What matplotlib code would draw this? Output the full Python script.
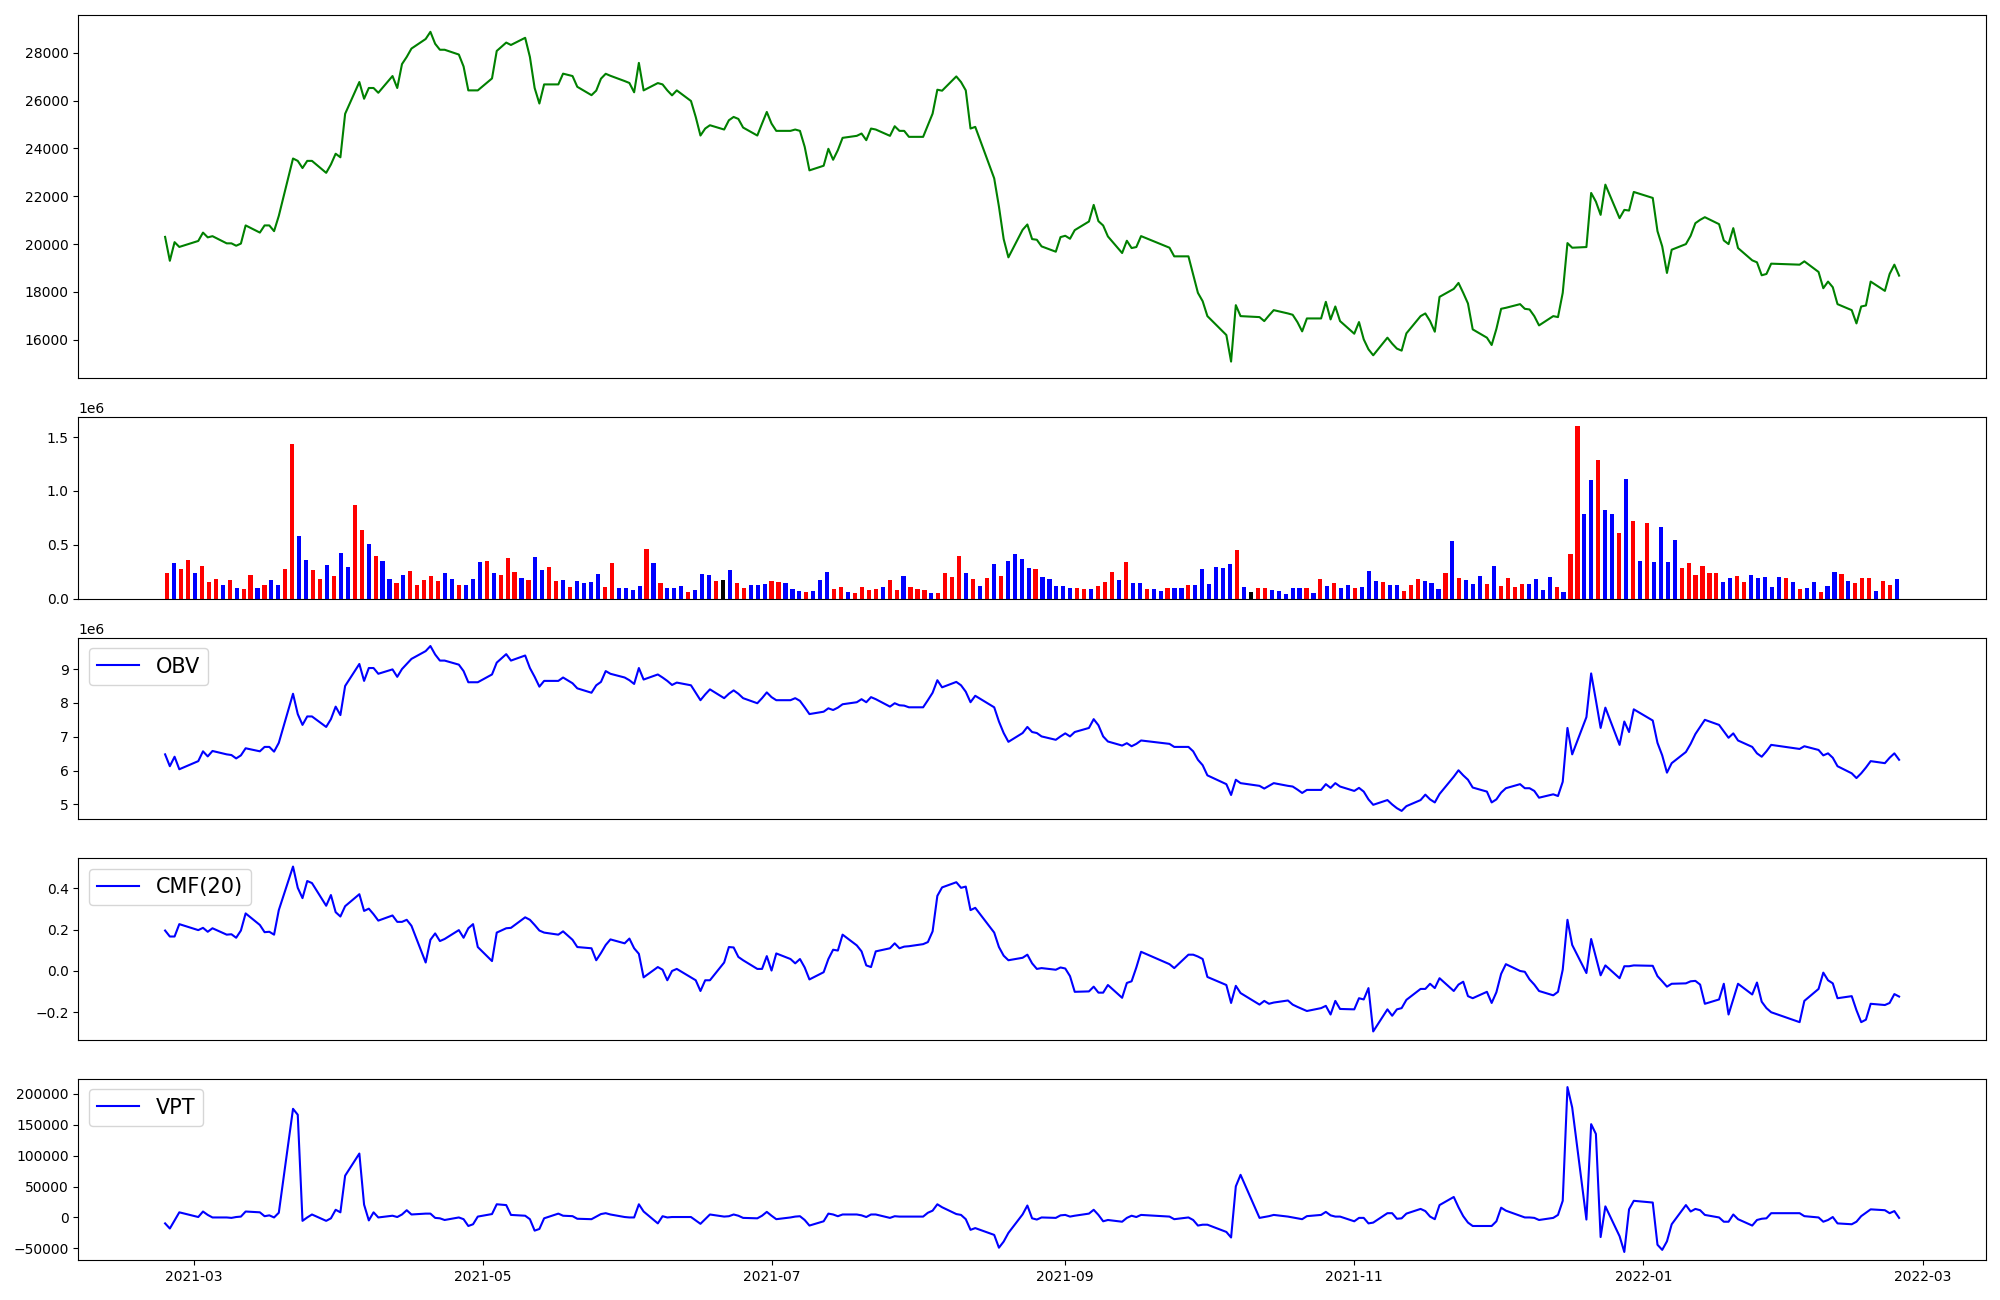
import numpy as np
import pandas as pd
import matplotlib
matplotlib.use("Agg")
import matplotlib.pyplot as plt
import matplotlib.dates as mdates

# ---------------- data ----------------
holidays = ["2021-03-01", "2021-05-05", "2021-05-19", "2021-08-16", "2021-09-20",
            "2021-09-21", "2021-09-22", "2021-10-04", "2021-10-11", "2021-12-31",
            "2022-01-31", "2022-02-01", "2022-02-02"]
dates = pd.bdate_range("2021-02-23", "2022-02-24").difference(pd.to_datetime(holidays))

close = [
    20300, 19300, 20080, 19880,
    20130, 20480, 20280, 20330, 20030, 20030, 19930, 20020, 20780, 20480, 20780,
    20780, 20540, 21180, 23580, 23480, 23180, 23480, 23480, 22980, 23330, 23780,
    23630, 25450, 26780, 26080, 26530, 26530, 26330, 27030, 26530, 27530, 27830,
    28180, 28580, 28880, 28380, 28130, 28130, 27930, 27430, 26430, 26430, 26430,
    26930, 28080, 28430, 28330, 28630, 27830, 26530, 25880, 26680, 26680, 27130,
    27030, 26580, 26230, 26420, 26920, 27125, 27040, 26820,
    26740, 26350, 27580, 26430, 26736, 26680, 26430, 26222, 26430, 25986, 25319,
    24541, 24833, 24972, 24792, 25180, 25319, 25236, 24875, 24541, 25041, 25528,
    25041, 24736, 24736, 24792, 24736, 24069, 23083, 23277, 23986, 23527, 23930,
    24444, 24528, 24625, 24347, 24833, 24792, 24528, 24930, 24736, 24736, 24486,
    24486, 24972, 25458, 26458, 26417, 27014, 26778, 26430, 24833, 24903, 22750,
    21569, 20208, 19444, 20597, 20819, 20208, 20180, 19903, 19680, 20291,
    20347, 20222, 20583, 20944, 21639, 20958, 20777, 20319, 19625, 20139, 19833,
    19875, 20333, 19847, 19486, 19486, 18721, 17958, 17610,
    16985, 16194, 15083, 17444, 16985, 16944, 16777, 17013, 17235, 17097, 17041,
    16736, 16347, 16888, 16888, 17583, 16847, 17388, 16777,
    16249, 16736, 16013, 15597, 15346, 16083, 15833, 15625, 15541, 16263, 16985,
    17097, 16777, 16333, 17791, 18124, 18374, 17958, 17513, 16430, 16083, 15777,
    16450, 17291, 17333, 17486, 17291, 17263, 16985, 16597, 16985, 16944, 17958,
    20041, 19847, 19875, 22138, 21777, 21222, 22486, 21083, 21430, 21402, 22180,
    21930, 20541, 19902, 18791, 19763, 19999, 20347, 20874, 21013, 21124, 20833,
    20152, 19999, 20666, 19833, 19319, 19236, 18694, 18749, 19180,
    19138, 19277, 18833, 18152, 18430, 18194, 17486, 17235, 16680, 17388, 17430,
    18430, 18041, 18749, 19138, 18680,
]

volume_m = [
    .241, .333, .272, .355, .235, .299, .151, .179, .123, .170,
    .102, .086, .216, .096, .123, .170, .123, .272, 1.438, .586,
    .355, .262, .179, .309, .207, .420, .290, .873, .642, .512,
    .392, .346, .179, .142, .219, .253, .123, .170, .207, .160,
    .235, .179, .130, .130, .179, .336, .346, .235, .216, .373,
    .244, .188, .170, .383, .262, .290, .160, .170, .107, .160,
    .142, .151, .225, .105, .327, .096, .096, .077, .114, .457,
    .327, .142, .096, .096, .114, .059, .077, .225, .216, .160,
    .170, .262, .142, .096, .123, .123, .133, .160, .151, .142,
    .086, .068, .059, .068, .170, .244, .086, .105, .059, .049,
    .105, .077, .086, .105, .170, .077, .207, .105, .086, .077,
    .049, .049, .235, .198, .392, .235, .179, .114, .188, .318,
    .207, .346, .410, .364, .281, .278, .198, .179, .114, .114,
    .096, .096, .086, .086, .114, .151, .244, .170, .336, .142,
    .142, .086, .086, .068, .096, .096, .096, .123, .123, .272,
    .133, .290, .281, .318, .448, .105, .059, .096, .096, .077,
    .068, .040, .096, .096, .096, .049, .179, .114, .142, .096,
    .123, .096, .105, .253, .160, .151, .123, .123, .068, .123,
    .179, .160, .142, .086, .235, .531, .188, .170, .133, .207,
    .133, .299, .114, .188, .105, .133, .133, .179, .077, .198,
    .105, .059, .410, 1.605, .790, 1.105, 1.290, .827, .790, .605,
    1.114, .725, .346, .698, .336, .670, .336, .540, .281, .327,
    .216, .299, .235, .235, .151, .188, .207, .151, .216, .188,
    .198, .105, .198, .188, .151, .086, .096, .151, .059, .114,
    .244, .225, .160, .142, .188, .188, .068, .160, .123, .179,
]

# candle direction per day: R = up (red), B = down (blue), K = flat (black)
candle = ("RBRRBRRRBR" "BRRBRBBRRB" "BRRBRBBRRB" "RBBRBRRRRR" "BBRBBBRBRR"
          "RBRBBRRBRB" "BBBRRBBBBR" "BRBBBRBBBR" "KBRRBBBRRB" "BBRBBBRRBR"
          "RRRBRRBRRR" "BRRRRBRBRB" "RBBBBRBBBB" "BRRBRRRBRB" "BRBBRBBRBB"
          "BBBBRBKRRB" "BBBBRBRBRB" "BRBBBRBBRR" "RBBBRBRBBB" "RBRRRRBBBB"
          "RBRRBBRBBR" "BRBRBBBBRR" "RRRRBBRRBB" "BBBRBRBBRB" "BRBRRRBRRB")

obv_m = [
    6.48, 6.13, 6.41, 6.04,
    6.28, 6.57, 6.42, 6.58, 6.48, 6.46, 6.36, 6.45, 6.66, 6.57, 6.70, 6.70, 6.56,
    6.82, 8.27, 7.67, 7.35, 7.60, 7.60, 7.29, 7.52, 7.89,
    7.64, 8.50, 9.15, 8.65, 9.03, 9.03, 8.86, 8.99, 8.77, 9.00, 9.15, 9.30, 9.53,
    9.68, 9.43, 9.25, 9.25, 9.13, 8.94, 8.61, 8.61, 8.61,
    8.84, 9.19, 9.44, 9.25, 9.40, 9.03, 8.77, 8.48, 8.65, 8.65, 8.75, 8.58, 8.43,
    8.30, 8.52, 8.62, 8.94, 8.86, 8.75,
    8.67, 8.56, 9.03, 8.69, 8.84, 8.75, 8.65, 8.53, 8.60, 8.52, 8.30, 8.08, 8.25,
    8.40, 8.14, 8.27, 8.37, 8.27, 8.14, 7.99, 8.14, 8.31,
    8.17, 8.08, 8.08, 8.14, 8.06, 7.87, 7.67, 7.74, 7.84, 7.79, 7.86, 7.96, 8.02,
    8.11, 8.02, 8.17, 8.11, 7.89, 7.99, 7.93, 7.92, 7.87,
    7.87, 8.08, 8.30, 8.67, 8.46, 8.62, 8.52, 8.33, 8.02, 8.21, 7.87, 7.45, 7.11,
    6.85, 7.11, 7.29, 7.14, 7.11, 7.01, 6.91, 7.01,
    7.10, 7.01, 7.14, 7.26, 7.52, 7.34, 7.01, 6.86, 6.74, 6.81, 6.72, 6.79, 6.89,
    6.79, 6.70, 6.70, 6.57, 6.32, 6.16,
    5.86, 5.60, 5.28, 5.73, 5.63, 5.55, 5.47, 5.55, 5.63, 5.55, 5.53, 5.44, 5.34,
    5.43, 5.43, 5.60, 5.49, 5.63, 5.53,
    5.40, 5.49, 5.38, 5.15, 4.99, 5.13, 5.00, 4.89, 4.81, 4.95, 5.13, 5.29, 5.15,
    5.06, 5.31, 5.82, 6.01, 5.86, 5.73, 5.50, 5.38, 5.06,
    5.15, 5.35, 5.48, 5.60, 5.48, 5.48, 5.40, 5.20, 5.30, 5.25, 5.67, 7.26, 6.48,
    7.58, 8.87, 8.08, 7.26, 7.86, 6.76, 7.45, 7.14, 7.81,
    7.48, 6.82, 6.45, 5.94, 6.22, 6.55, 6.79, 7.08, 7.29, 7.50, 7.35, 7.16, 6.97,
    7.10, 6.89, 6.70, 6.51, 6.41, 6.57, 6.76,
    6.64, 6.72, 6.61, 6.45, 6.51, 6.38, 6.13, 5.92, 5.78, 5.92, 6.09, 6.28, 6.22,
    6.38, 6.51, 6.32,
]

cmf = [
    .196, .167, .167, .227,
    .198, .209, .190, .207, .176, .178, .161, .196, .279, .223, .188, .190, .176,
    .295, .506, .403, .353, .436, .426, .316, .368, .285,
    .264, .314, .372, .291, .302, .275, .244, .269, .238, .238, .248, .219, .041,
    .151, .182, .145, .155, .198, .161, .207, .227, .116,
    .048, .186, .207, .209, .260, .248, .223, .196, .186, .176, .192, .151, .116,
    .110, .052, .087, .126, .153, .134,
    .157, .110, .083, -.031, .019, .006, -.045, .000, .010, -.031, -.045, -.097,
    -.045, -.045, .041, .116, .114, .068, .052, .010, .010, .072,
    .002, .085, .058, .037, .058, .017, -.041, -.006, .058, .103, .099, .176, .124,
    .095, .027, .019, .095, .110, .134, .110, .118, .120,
    .130, .140, .192, .364, .405, .430, .403, .409, .295, .306, .186, .116, .074,
    .052, .064, .079, .037, .010, .014, .006, .017,
    .012, -.025, -.101, -.099, -.076, -.105, -.105, -.068, -.130, -.058, -.050,
    .017, .093, .033, .014, .079, .079, .070, .058,
    -.029, -.068, -.155, -.072, -.107, -.163, -.145, -.159, -.153, -.143, -.163,
    -.174, -.184, -.194, -.180, -.169, -.211, -.145, -.184,
    -.186, -.132, -.138, -.083, -.293, -.186, -.217, -.186, -.180, -.140, -.087,
    -.087, -.062, -.083, -.035, -.097, -.066, -.052, -.122, -.132, -.101, -.155,
    -.103, -.014, .033, .000, -.004, -.041, -.066, -.097, -.118, -.101, .006, .248,
    .126, -.010, .155, .068, -.021, .027, -.035, .023, .023, .027,
    .025, -.025, -.050, -.076, -.062, -.060, -.050, -.048, -.066, -.159, -.138,
    -.062, -.211, -.136, -.062, -.114, -.056, -.149, -.180, -.200,
    -.248, -.145, -.087, -.008, -.045, -.060, -.132, -.122, -.190, -.248, -.236,
    -.159, -.165, -.155, -.112, -.124,
]

vpt = [
    -9600, -17900, -4800, 8300,
    700, 9600, 4100, 0, 0, -700, 700, 1400, 9600, 8300, 2000, 3400, 0, 7600,
    175600, 166000, -5500, 0, 4800, -5500, -1400, 12400,
    8300, 67500, 103300, 20700, -4800, 8300, 0, 2800, 700, 4800, 11700, 4800,
    6200, 6200, -700, -1400, -4100, 0, -2800, -13800, -11000, 1400,
    5500, 21300, 20000, 4100, 2800, -2800, -21300, -18600, -1400, 6200, 2800,
    2100, -2100, -2800, 1400, 5500, 6900, 4800, 700,
    0, 0, 21300, 9600, -9600, 2000, 0, 700, 700, 700, -4800, -10300, -2800, 4800,
    1400, 2000, 4800, 2800, -700, -1400, 2800, 9000,
    2800, -2800, 0, 1400, 2000, -4100, -13100, -6200, 6200, 4800, 2000, 4800,
    4800, 3400, 700, 4800, 4800, -700, 2000, 1400, 1400, 1400,
    1400, 7600, 11000, 21300, 16500, 5500, 4100, -2800, -20000, -17200, -28200,
    -48900, -39000, -25000, 5000, 19300, -1400, -3400, 0, -700, 3400,
    4100, 1400, 2800, 6200, 12400, 4100, -6200, -4100, -6900, -700, 2800, 700,
    4100, 1400, -2800, 0, -4100, -13100, -11700,
    -11700, -23400, -32400, 50300, 68900, -700, 700, 2100, 4100, 1400, 0, -1400,
    -2800, 2100, 4100, 9000, 3400, 1400, 1400,
    -6200, -700, -700, -9600, -8300, 6900, 6900, -2100, -1400, 6200, 13800, 10300,
    1400, -2800, 20000, 33100, 16500, 2100, -8300, -13800, -13800, -13800,
    -6200, 15800, 11000, 2800, 0, 0, -700, -4100, -700, 4100, 26900, 210700,
    177700, -3400, 150800, 135000, -31700, 17900, -30300, -55800, 13100, 26900,
    24100, -44100, -52400, -38600, -11000, 20000, 9600, 13800, 11700, 4100, 0,
    -6900, -6900, 4800, -2800, -13100, -4100, -2100, -1400, 6900,
    6900, 2100, 0, -6900, -4100, 700, -9600, -11000, -6900, 2100, 7600, 13100,
    11700, 6900, 10300, -700,
]

# ---------------- figure ----------------
fig = plt.figure(figsize=(20, 13), dpi=100)
gs = fig.add_gridspec(5, 1, height_ratios=[2, 1, 1, 1, 1],
                      left=0.0392, right=0.9929, top=0.9882, bottom=0.0306,
                      hspace=0.18)
ax_price = fig.add_subplot(gs[0])
ax_vol = fig.add_subplot(gs[1])
ax_obv = fig.add_subplot(gs[2], sharex=ax_price)
ax_cmf = fig.add_subplot(gs[3], sharex=ax_price)
ax_vpt = fig.add_subplot(gs[4], sharex=ax_price)

ax_price.plot(dates, close, color="green")

color_map = {"R": "red", "B": "blue", "K": "black"}
bar_colors = [color_map[c] for c in candle]
ax_vol.bar(np.arange(len(volume_m)), np.array(volume_m) * 1e6,
           color=bar_colors, width=0.6)

ax_obv.plot(dates, np.array(obv_m) * 1e6, color="blue", label="OBV")
ax_obv.legend(loc="upper left", fontsize=15)

ax_cmf.plot(dates, cmf, color="blue", label="CMF(20)")
ax_cmf.legend(loc="upper left", fontsize=15)

ax_vpt.plot(dates, vpt, color="blue", label="VPT")
ax_vpt.legend(loc="upper left", fontsize=15)

for ax in (ax_price, ax_vol, ax_obv, ax_cmf):
    ax.tick_params(axis="x", which="both", bottom=False, labelbottom=False)

ax_vpt.xaxis.set_major_locator(mdates.MonthLocator(bymonth=[1, 3, 5, 7, 9, 11]))
ax_vpt.xaxis.set_major_formatter(mdates.DateFormatter("%Y-%m"))

fig.savefig("out.png", dpi=100)
